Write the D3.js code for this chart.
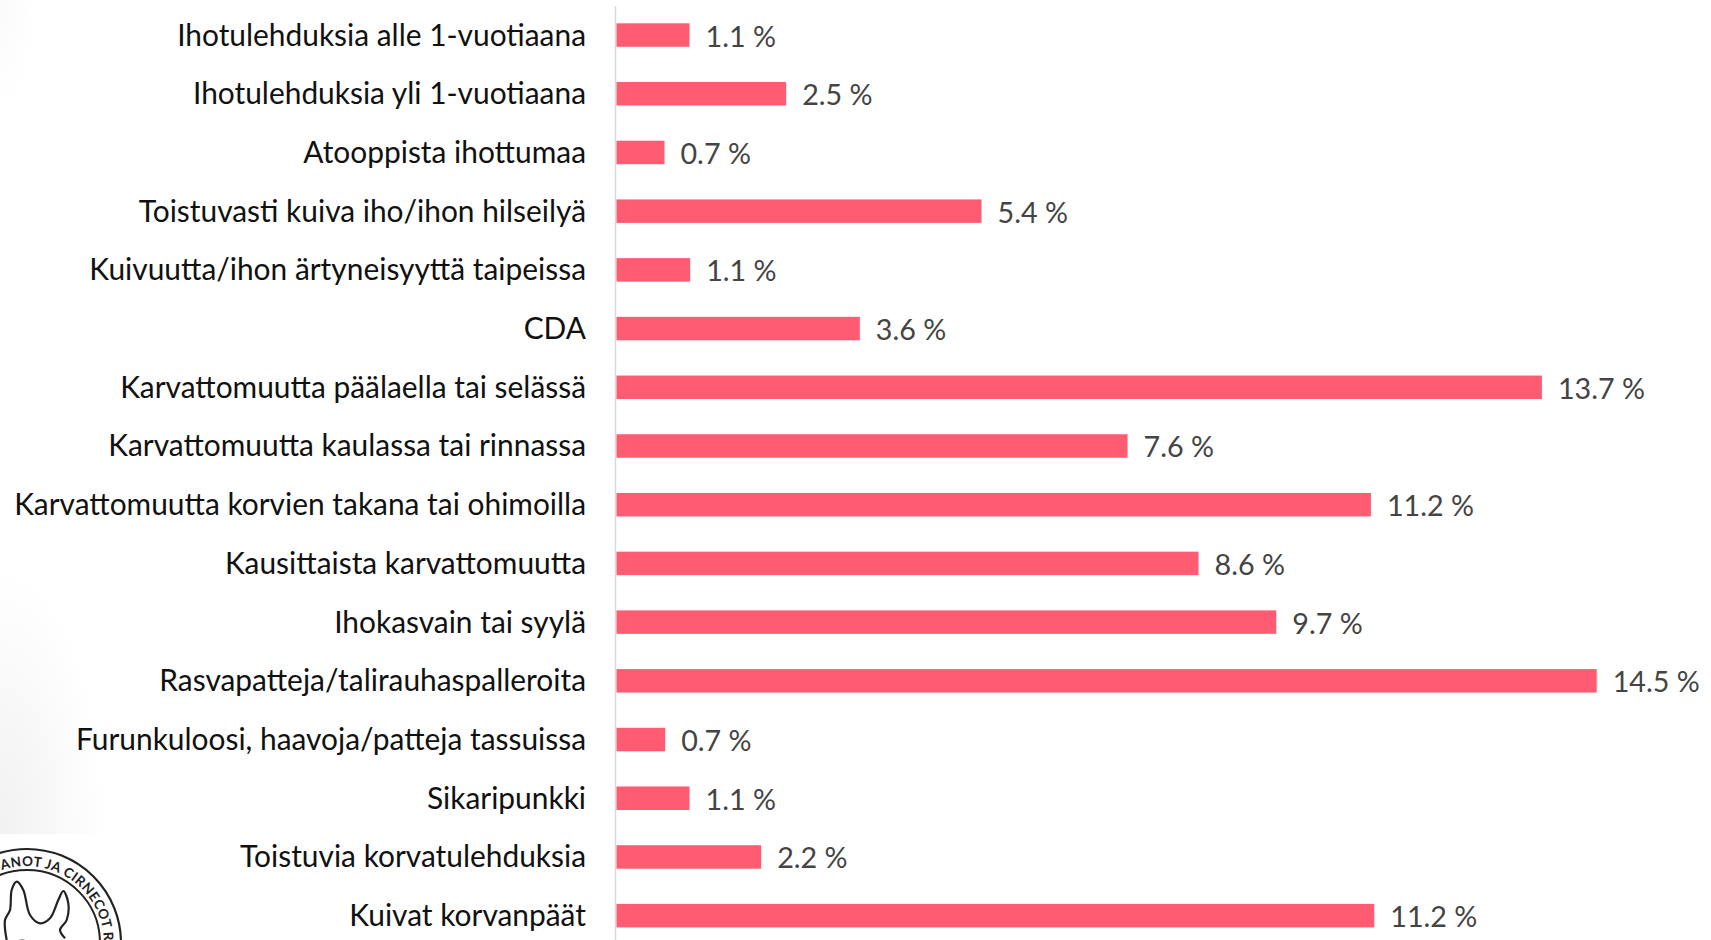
<!DOCTYPE html>
<html><head><meta charset="utf-8">
<script src="https://cdn.jsdelivr.net/npm/d3@7/dist/d3.min.js"></script>
<style>html,body{margin:0;padding:0;background:#fff;overflow:hidden}svg{display:block}text{font-family:Lato,"Open Sans",sans-serif}</style>
</head><body><div id="chart"></div>
<script>
const categories = ["Ihotulehduksia alle 1-vuotiaana","Ihotulehduksia yli 1-vuotiaana","Atooppista ihottumaa","Toistuvasti kuiva iho/ihon hilseilyä","Kuivuutta/ihon ärtyneisyyttä taipeissa","CDA","Karvattomuutta päälaella tai selässä","Karvattomuutta kaulassa tai rinnassa","Karvattomuutta korvien takana tai ohimoilla","Kausittaista karvattomuutta","Ihokasvain tai syylä","Rasvapatteja/talirauhaspalleroita","Furunkuloosi, haavoja/patteja tassuissa","Sikaripunkki","Toistuvia korvatulehduksia","Kuivat korvanpäät"];
const values = [1.08,2.51,0.71,5.40,1.09,3.60,13.69,7.56,11.16,8.61,9.76,14.5,0.72,1.08,2.14,11.21];
const valueLabels = ["1.1 %","2.5 %","0.7 %","5.4 %","1.1 %","3.6 %","13.7 %","7.6 %","11.2 %","8.6 %","9.7 %","14.5 %","0.7 %","1.1 %","2.2 %","11.2 %"];
const earOutline = [[-20.3,-3],[-22,-23],[-17,-33],[-15.3,-53],[-10.3,-61.3],[-3.7,-53],[3,-28],[13,-19.7],[23,-24.7],[31.3,-43],[36.3,-52],[41.3,-39.7],[39.7,-23],[33,-13],[38,-4.7]];
const W=1711,H=940,x0=616.5,perUnit=67.6;
const svg=d3.select("#chart").append("svg").attr("width",W).attr("height",H);
const x=d3.scaleLinear().domain([0,14.5]).range([x0,x0+14.5*perUnit]);
const y=d3.scaleBand().domain(categories).range([5.7,945]).paddingInner(0.6).paddingOuter(0.3);
const defs=svg.append("defs");
const g=defs.append("radialGradient").attr("id","shade").attr("cx",0).attr("cy",1).attr("r",1);
g.append("stop").attr("offset",0).attr("stop-color","#f1f1f1");
g.append("stop").attr("offset",1).attr("stop-color","#ffffff");
const g2=defs.append("radialGradient").attr("id","shadeTop").attr("cx",0).attr("cy",0).attr("r",1);
g2.append("stop").attr("offset",0).attr("stop-color","#fafafa");
g2.append("stop").attr("offset",1).attr("stop-color","#ffffff");
svg.append("rect").attr("x",0).attr("y",570).attr("width",105).attr("height",264).attr("fill","url(#shade)");
svg.append("rect").attr("x",0).attr("y",0).attr("width",35).attr("height",110).attr("fill","url(#shadeTop)");
svg.append("line").attr("x1",x0-1).attr("x2",x0-1).attr("y1",6).attr("y2",H).attr("stroke","#d9d9d9").attr("stroke-width",1.5);
svg.selectAll(".bar").data(values).join("rect").attr("class","bar")
 .attr("x",x(0)).attr("y",(d,i)=>y(categories[i])).attr("width",d=>x(d)-x(0)).attr("height",y.bandwidth()).attr("fill","#ff5c74");
svg.selectAll(".cat").data(categories).join("text").attr("class","cat")
 .attr("x",586).attr("y",d=>y(d)+y.bandwidth()/2+10.5).attr("text-anchor","end").attr("font-size",29.9).attr("fill","#111").text(d=>d);
svg.selectAll(".val").data(values).join("text").attr("class","val")
 .attr("x",d=>x(d)+16).attr("y",(d,i)=>y(categories[i])+y.bandwidth()/2+11.5).attr("font-size",28.7).attr("fill","#444").text((d,i)=>valueLabels[i]);
// logo
const logo=svg.append("g").attr("transform","translate(27,943)");
logo.append("circle").attr("r",94).attr("fill","#fff").attr("stroke","#222").attr("stroke-width",2.2);
logo.append("circle").attr("r",73).attr("fill","none").attr("stroke","#222").attr("stroke-width",2);
const a0=-19*Math.PI/180,a1=150*Math.PI/180,rt=77;
defs.append("path").attr("id","arc").attr("d",`M ${rt*Math.sin(a0)} ${-rt*Math.cos(a0)} A ${rt} ${rt} 0 0 1 ${rt*Math.sin(a1)} ${-rt*Math.cos(a1)}`);
logo.append("text").attr("font-size",13.5).attr("font-weight",700).attr("fill","#222").attr("letter-spacing",0.4)
 .append("textPath").attr("href","#arc").text("ANOT JA CIRNECOT R");
logo.append("path").attr("fill","none").attr("stroke","#222").attr("stroke-width",2.2)
 .attr("d",d3.line().curve(d3.curveCatmullRom)(earOutline));
logo.append("path").attr("fill","none").attr("stroke","#222").attr("stroke-width",2.2).attr("d","M-12 0 Q-5 -5 2 0");
</script></body></html>
